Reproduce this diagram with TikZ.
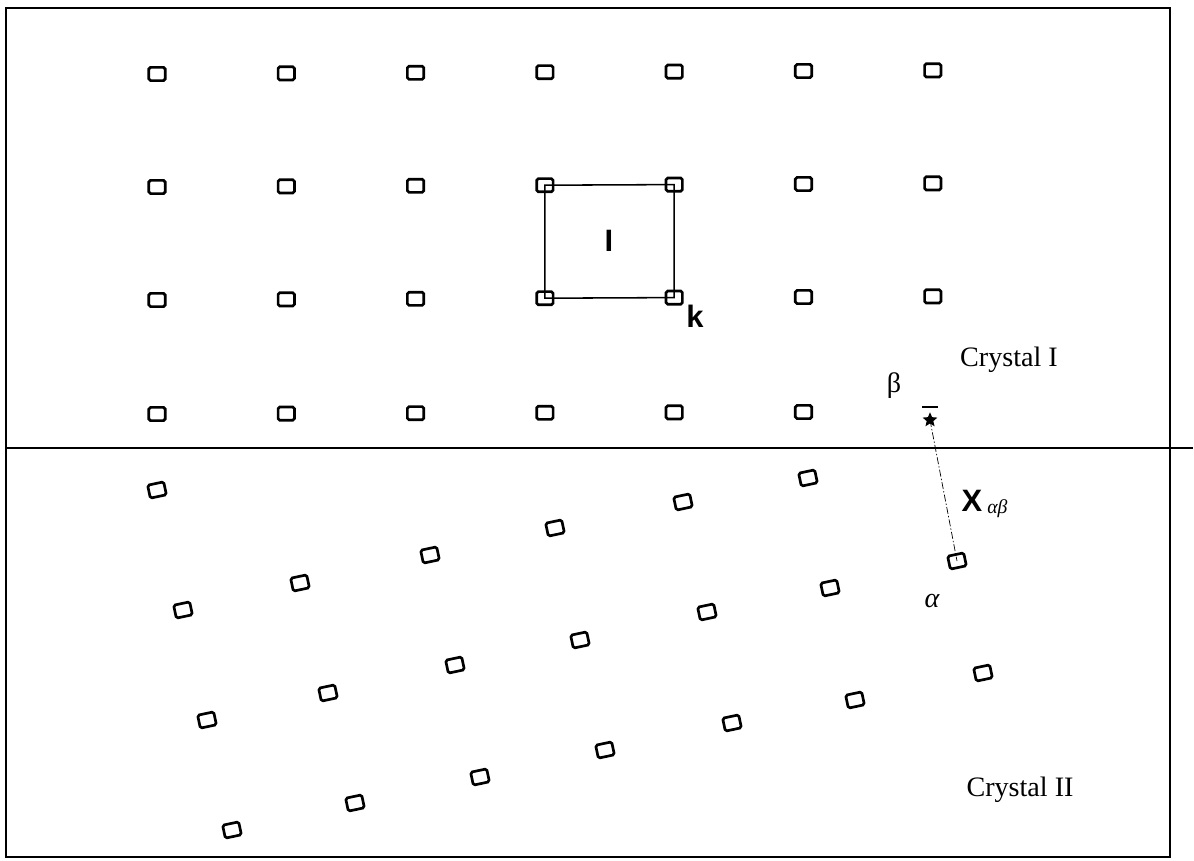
\documentclass[tikz,border=0pt]{standalone}
\usepackage{fontspec}
\setmainfont{Liberation Serif}
\setsansfont{Liberation Sans}
\usetikzlibrary{shapes.geometric}
\tikzset{
  gitter/.style={draw, rectangle, rounded corners=1.2pt, line width=1.9pt, minimum width=4.1mm, minimum height=3.3mm, inner sep=0pt},
  gitterzwei/.style={gitter, rotate=12},
  verbindung/.style={line width=0.5pt, dash pattern=on 5pt off 1.5pt on 1pt off 1.5pt},
  schrift/.style={font=\fontsize{20}{22}\selectfont, inner sep=0pt},
  fett/.style={font=\sffamily\bfseries\fontsize{22}{24}\selectfont, inner sep=0pt},
}
\begin{document}
\begin{tikzpicture}[x=0.25mm, y=-0.25mm]
    \useasboundingbox (0,0) rectangle (1194,861);
    \draw[line width=1.4pt] (6,8) rectangle (1170,857);                         % Rahmen
    \draw[line width=1.6pt] (6,448) -- (1193,448);                              % Grenzflaeche

    % Kristall I
    \foreach \i in {0,...,6}
      \foreach \j/\y in {1/74,2/187,3/300}
        \node[gitter] (a\i\j) at (157+129.3*\i,\y-0.6*\i) {};
    \foreach \i in {0,...,5}
      \node[gitter] (a\i4) at (157+129.3*\i,414-0.4*\i) {};
    \draw[line width=1.1pt] (a32.center) -- (a42.center) -- (a43.center) -- (a33.center) -- cycle; % Zelle
    \node[fett] (zelle) at (609,241) {I};
    \node[fett] (ecke) at (695,316) {k};

    % Kristall II
    \foreach \x/\y [count=\n] in {157/490, 183/610, 207/720, 232/830, 300/583, 328/693, 355/803,
                                  430/555, 455/665, 480/777, 555/528, 580/640, 605/750, 683/502,
                                  707/612, 732/723, 808/478, 830/588, 855/700, 983/673}
      \node[gitterzwei] (b\n) at (\x,\y) {};

    % Paar
    \node[star, star points=5, star point ratio=2.2, fill, inner sep=0pt, minimum size=11pt] (beta) at (930,420) {};
    \draw[line width=1.2pt] (922,407) -- (938,407);                             % Strich
    \node[gitterzwei] (alpha) at (957,561) {};
    \draw[verbindung] (beta.center) -- (alpha.center);                         % Abstand
    \node[schrift] (betatext) at (894,386) {β};
    \node[schrift] (alphatext) at (932,601) {\itshape α};
    \node[fett] (abst) at (972,501) {X};
    \node[anchor=west, font=\itshape\fontsize{14}{14}\selectfont, inner sep=0pt] (abstidx) at (987,509) {αβ};

    \node[schrift] (kristall1) at (1009,360) {Crystal I};
    \node[schrift] (kristall2) at (1020,790) {Crystal II};
\end{tikzpicture}
\end{document}
